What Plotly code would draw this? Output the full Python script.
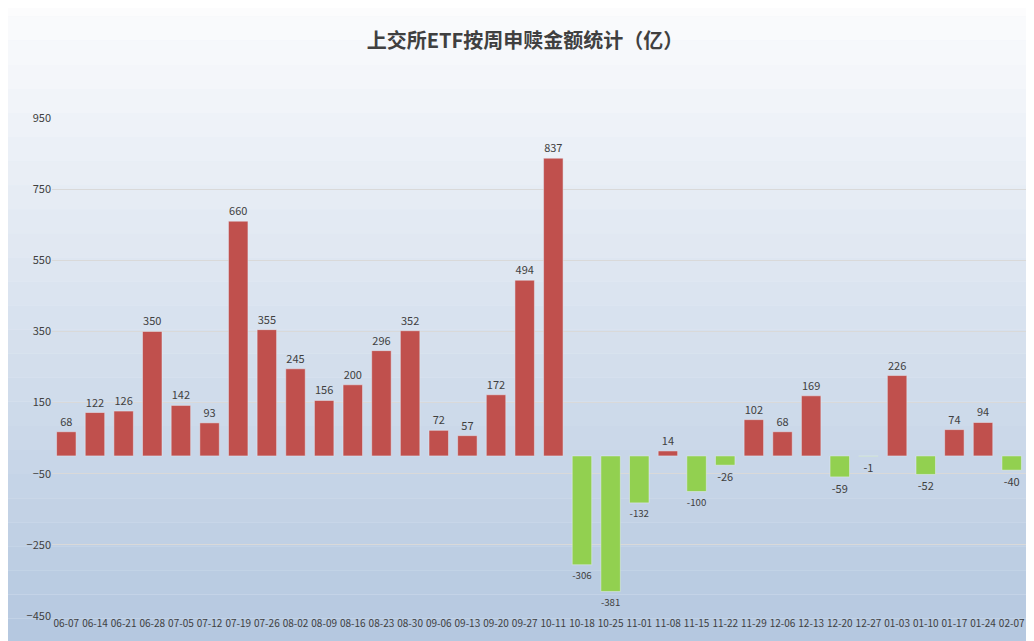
import plotly.graph_objects as go

weeks = ["06-07", "06-14", "06-21", "06-28", "07-05", "07-12", "07-19", "07-26",
         "08-02", "08-09", "08-16", "08-23", "08-30", "09-06", "09-13", "09-20",
         "09-27", "10-11", "10-18", "10-25", "11-01", "11-08", "11-15", "11-22",
         "11-29", "12-06", "12-13", "12-20", "12-27", "01-03", "01-10", "01-17",
         "01-24", "02-07"]
amounts = [68, 122, 126, 350, 142, 93, 660, 355, 245, 156, 200, 296, 352, 72, 57, 172,
           494, 837, -306, -381, -132, 14, -100, -26, 102, 68, 169, -59, -1, 226, -52, 74,
           94, -40]
ticks = [-450, -250, -50, 150, 350, 550, 750, 950]

colors = ["#C0504D" if v >= 0 else "#92D050" for v in amounts]

fig = go.Figure(go.Bar(
    x=weeks, y=amounts, marker_color=colors, width=0.68,
    text=[str(v) for v in amounts], textposition="outside",
    textfont=dict(size=11, color="#404040"), cliponaxis=False,
))

# background gradient: white at top to pale blue at bottom
n = 30
shapes = []
for i in range(n):
    t = i / (n - 1)
    r = int(255 + (176 - 255) * t)
    g = int(255 + (196 - 255) * t)
    b = int(255 + (222 - 255) * t)
    shapes.append(dict(type="rect", xref="paper", yref="paper", layer="below",
                       x0=-0.1, x1=1.1, y0=1.3 - (i + 1) * 1.45 / n, y1=1.3 - i * 1.45 / n,
                       fillcolor=f"rgb({r},{g},{b})", line_width=0))

fig.update_layout(
    width=1034, height=641,
    margin=dict(l=44, r=16, t=110, b=33),
    title=dict(text="<b>上交所ETF按周申赎金额统计（亿）</b>", x=0.5, y=0.96,
               font=dict(size=20, color="#404040", family="Noto Sans CJK SC")),
    font=dict(family="Noto Sans CJK SC", size=11, color="#404040"),
    paper_bgcolor="rgb(230,238,246)", plot_bgcolor="rgba(0,0,0,0)",
    shapes=shapes, showlegend=False, bargap=0.3,
    xaxis=dict(type="category", tickangle=0, showgrid=False, tickfont=dict(size=10)),
    yaxis=dict(range=[-450, 950], tickvals=ticks, gridcolor="#D9D9D9",
               zeroline=False, tickfont=dict(size=11)),
)

fig.write_html("out.html")
